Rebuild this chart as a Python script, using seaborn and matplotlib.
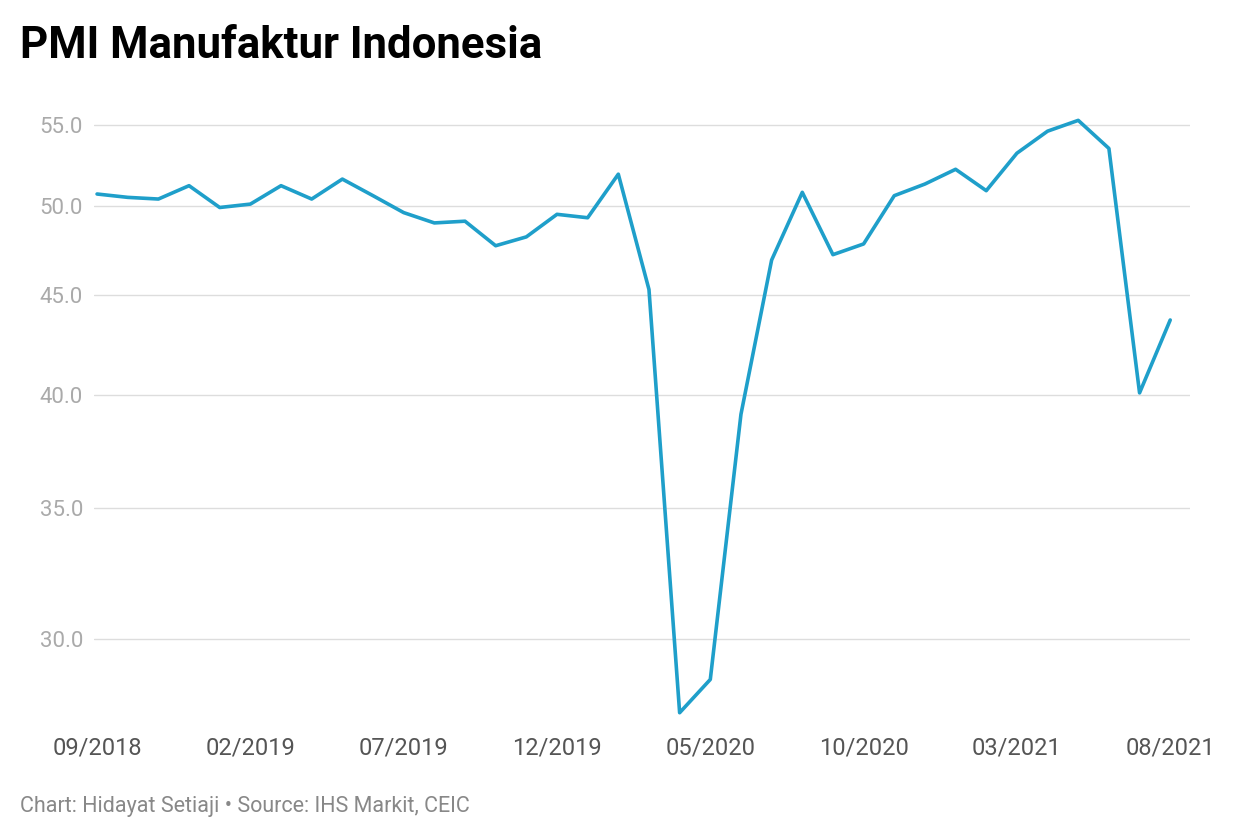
import matplotlib
matplotlib.use("Agg")
import matplotlib.pyplot as plt
import seaborn as sns
import pandas as pd
import numpy as np
from matplotlib.ticker import FixedLocator, NullLocator

months = pd.date_range("2018-09-01", "2021-08-01", freq="MS")
pmi = [50.7, 50.5, 50.4, 51.2, 49.9, 50.1, 51.2, 50.4, 51.6, 50.6, 49.6, 49.0,
       49.1, 47.7, 48.2, 49.5, 49.3, 51.9, 45.3, 27.5, 28.6, 39.1, 46.9, 50.8,
       47.2, 47.8, 50.6, 51.3, 52.2, 50.9, 53.2, 54.6, 55.3, 53.5, 40.1, 43.7]
yticks = [30.0, 35.0, 40.0, 45.0, 50.0, 55.0]

df = pd.DataFrame({"i": np.arange(len(pmi)), "pmi": pmi})

sns.set_theme(style="white")
plt.rcParams['font.family'] = ['Roboto', 'DejaVu Sans']
fig = plt.figure(figsize=(12.4, 8.4), dpi=100)
ax = fig.add_axes([0.0758, 0.133, 0.884, 0.74])
sns.lineplot(data=df, x="i", y="pmi", ax=ax, color="#1f9fca", linewidth=2.6)
ax.set_yscale("log")
ax.set_ylim(27.0, 56.2)
ax.yaxis.set_major_locator(FixedLocator(yticks))
ax.yaxis.set_minor_locator(NullLocator())
ax.set_yticklabels([f"{v:.1f}" for v in yticks])
ax.set_xlim(-0.1, 35.65)
xt = list(range(0, 36, 5))
ax.set_xticks(xt)
ax.set_xticklabels([months[i].strftime("%m/%Y") for i in xt])
ax.grid(axis="y", color="#dddddd", linewidth=1)
for s in ax.spines.values():
    s.set_visible(False)
ax.tick_params(axis="y", colors="#999999", labelsize=16, length=0, pad=8)
ax.tick_params(axis="x", colors="#555555", labelsize=17, length=0, pad=6)
for lbl in ax.get_yticklabels():
    lbl.set_color("#aaaaaa")
ax.set_xlabel("")
ax.set_ylabel("")
fig.text(0.016, 0.945, "PMI Manufaktur Indonesia", fontsize=31.5, fontweight="bold", color="#000000", va="center")
fig.text(0.016, 0.04, "Chart: Hidayat Setiaji • Source: IHS Markit, CEIC", fontsize=15.5, color="#888888", va="center")
fig.savefig("out.png", dpi=100, facecolor="white")
